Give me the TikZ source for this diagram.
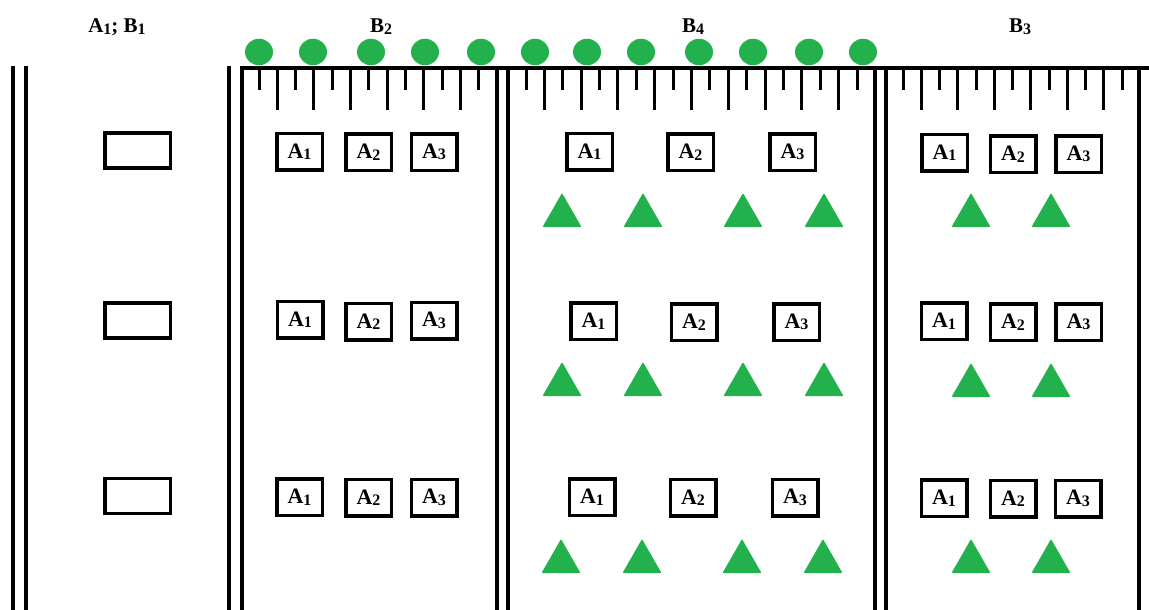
\documentclass[tikz,border=0pt]{standalone}
\usepackage{fontspec}
\usetikzlibrary{shapes.geometric}
\setmainfont{Liberation Serif}
\definecolor{tgreen}{HTML}{22B14C}
\newcommand\lab[2]{#1\raisebox{-1.5pt}{\fontsize{16}{16}\selectfont #2}}
\begin{document}
\begin{tikzpicture}[x=1pt,y=-1pt,
  wall/.style={line width=3.2pt},
  tickline/.style={line width=3pt},
  abox/.style={draw,line width=3.5pt,minimum width=45.5pt,minimum height=36.5pt,inner sep=0pt,font=\fontsize{22}{22}\selectfont\bfseries},
  ebox/.style={draw,line width=3.5pt,minimum width=65.5pt,minimum height=35pt,inner sep=0pt},
  head/.style={anchor=base,inner sep=0pt,font=\fontsize{21}{21}\selectfont\bfseries},
  dot/.style={ellipse,fill=tgreen,minimum width=28pt,minimum height=26.5pt,inner sep=0pt},
  tri/.pic={\fill[tgreen,rounded corners=1pt] (-19.5,0) -- (19.5,0) -- (0,-34) -- cycle;}
]
\useasboundingbox (0,0) rectangle (1149,610);
% headers
\node[head] (h1) at (117,33) {\lab{A}{1}; \lab{B}{1}};
\node[head] (h2) at (381,33) {\lab{B}{2}};
\node[head] (h4) at (693,33) {\lab{B}{4}};
\node[head] (h3) at (1020,33) {\lab{B}{3}};
% walls
\draw[wall] (13,66) -- (13,610);
\draw[wall] (26,66) -- (26,610);
\draw[wall] (229,66) -- (229,610);
\draw[wall] (242,610) -- (242,68) -- (1149,68);
\draw[wall] (497,68) -- (497,610);
\draw[wall] (508,68) -- (508,610);
\draw[wall] (875,68) -- (875,610);
\draw[wall] (886,68) -- (886,610);
\draw[wall] (1139,68) -- (1139,610);
% ticks
\foreach \k in {0,...,12}{
  \pgfmathsetmacro\xx{259+18.33*\k}
  \pgfmathsetmacro\ll{ifthenelse(mod(\k,2)==1,110,90)}
  \draw[tickline] (\xx,68) -- (\xx,\ll);
}
\foreach \k in {0,...,18}{
  \pgfmathsetmacro\xx{526+18.39*\k}
  \pgfmathsetmacro\ll{ifthenelse(mod(\k,2)==1,110,90)}
  \draw[tickline] (\xx,68) -- (\xx,\ll);
}
\foreach \k in {0,...,12}{
  \pgfmathsetmacro\xx{903+18.25*\k}
  \pgfmathsetmacro\ll{ifthenelse(mod(\k,2)==1,110,90)}
  \draw[tickline] (\xx,68) -- (\xx,\ll);
}
% green dots
\foreach \x [count=\i] in {259,313,371,425,481,535,587,641,699,753,809,863}
  \node[dot] (c\i) at (\x,52) {};
% left empty boxes
\node[ebox] (e1) at (137.5,150.5) {};
\node[ebox] (e2) at (137.5,320.5) {};
\node[ebox] (e3) at (137.5,496) {};
% B2 boxes
\node[abox] (b2a1r1) at (299.5,151.5) {\lab{A}{1}};
\node[abox] (b2a2r1) at (368.5,152) {\lab{A}{2}};
\node[abox] (b2a3r1) at (434,152) {\lab{A}{3}};
\node[abox] (b2a1r2) at (300,319.5) {\lab{A}{1}};
\node[abox] (b2a2r2) at (368.5,321.5) {\lab{A}{2}};
\node[abox] (b2a3r2) at (434,320.5) {\lab{A}{3}};
\node[abox] (b2a1r3) at (299.5,497) {\lab{A}{1}};
\node[abox] (b2a2r3) at (368.5,497.5) {\lab{A}{2}};
\node[abox] (b2a3r3) at (434,497.5) {\lab{A}{3}};
% B4 boxes
\node[abox] (b4a1r1) at (589.5,151.5) {\lab{A}{1}};
\node[abox] (b4a2r1) at (690.5,152) {\lab{A}{2}};
\node[abox] (b4a3r1) at (792.5,152) {\lab{A}{3}};
\node[abox] (b4a1r2) at (593.5,321) {\lab{A}{1}};
\node[abox] (b4a2r2) at (694,322) {\lab{A}{2}};
\node[abox] (b4a3r2) at (796.5,322) {\lab{A}{3}};
\node[abox] (b4a1r3) at (592,497) {\lab{A}{1}};
\node[abox] (b4a2r3) at (693,497.5) {\lab{A}{2}};
\node[abox] (b4a3r3) at (795,497.5) {\lab{A}{3}};
% B3 boxes
\node[abox] (b3a1r1) at (944.5,152.5) {\lab{A}{1}};
\node[abox] (b3a2r1) at (1013,154) {\lab{A}{2}};
\node[abox] (b3a3r1) at (1078.5,154) {\lab{A}{3}};
\node[abox] (b3a1r2) at (944,321) {\lab{A}{1}};
\node[abox] (b3a2r2) at (1013,322) {\lab{A}{2}};
\node[abox] (b3a3r2) at (1078.5,322) {\lab{A}{3}};
\node[abox] (b3a1r3) at (944,498) {\lab{A}{1}};
\node[abox] (b3a2r3) at (1013,498.5) {\lab{A}{2}};
\node[abox] (b3a3r3) at (1078,498.5) {\lab{A}{3}};
% triangles
\foreach \x in {562,643,743,824} {
  \pic at (\x,227) {tri};
  \pic at (\x,396) {tri};
}
\foreach \x in {561,642,742,823} \pic at (\x,573) {tri};
\foreach \x in {971,1051} {
  \pic at (\x,227) {tri};
  \pic at (\x,397) {tri};
  \pic at (\x,573) {tri};
}
\end{tikzpicture}
\end{document}
